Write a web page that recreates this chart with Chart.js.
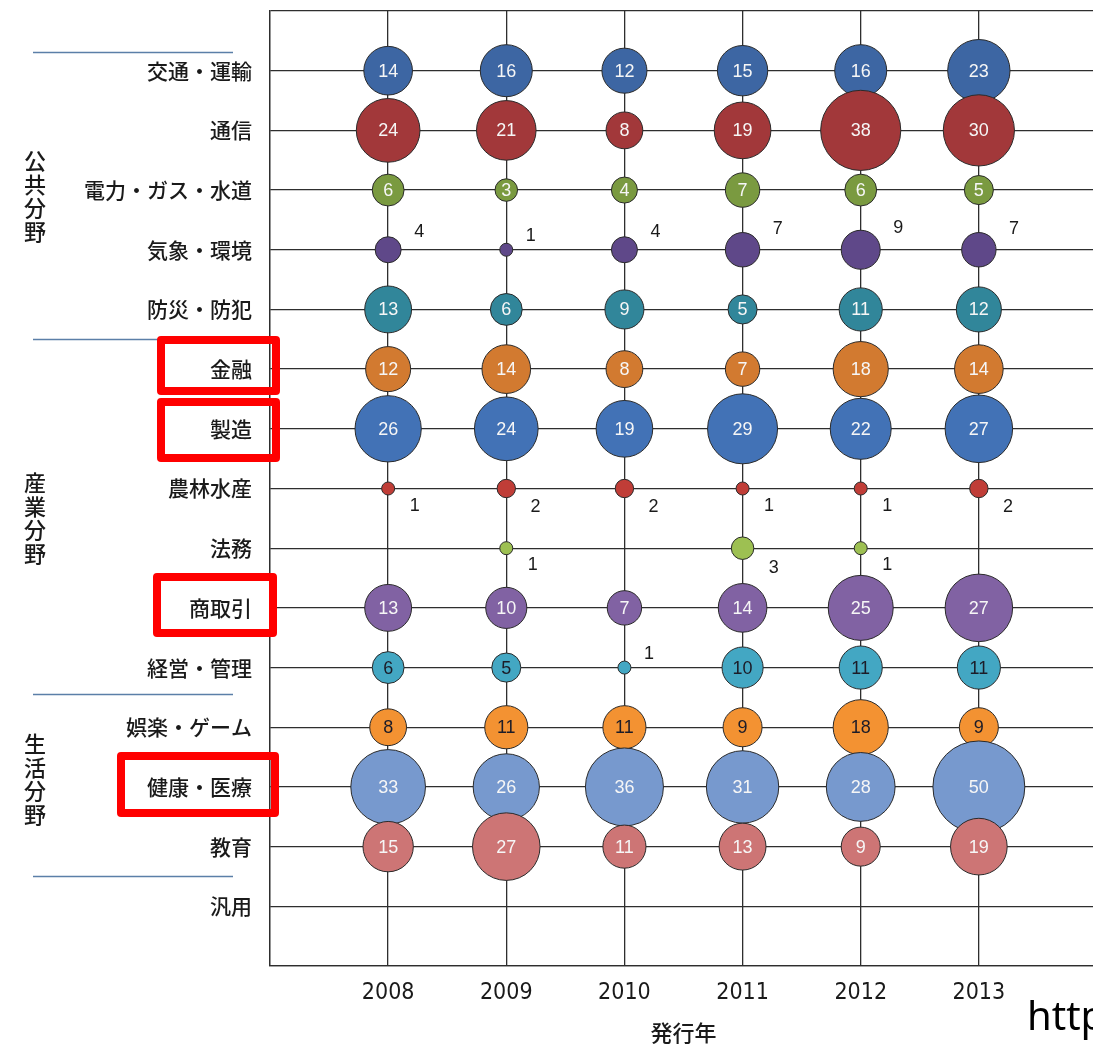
<!DOCTYPE html>
<html lang="ja">
<head>
<meta charset="utf-8">
<title>分野別・発行年別件数</title>
<script src="https://cdn.jsdelivr.net/npm/chart.js@4/dist/chart.umd.min.js"></script>
<style>
  html, body { margin: 0; padding: 0; background: #ffffff; overflow: hidden; }
  #wrap { position: absolute; left: 0; top: 0; width: 1097px; height: 1046px; }
</style>
</head>
<body>
<div id="wrap"><canvas id="chart"></canvas></div>
<script>
// Publication years (x axis)
const years = [2008, 2009, 2010, 2011, 2012, 2013];

// Fields (y axis, top to bottom)
const categories = [
  '交通・運輸', '通信', '電力・ガス・水道', '気象・環境', '防災・防犯',
  '金融', '製造', '農林水産', '法務', '商取引', '経営・管理',
  '娯楽・ゲーム', '健康・医療', '教育', '汎用'
];

// Field groups shown at the far left
const groupNames = ['公共分野', '産業分野', '生活分野'];

// Counts per field, 2008 → 2013
const transport     = [14, 16, 12, 15, 16, 23];
const telecom       = [24, 21, 8, 19, 38, 30];
const utilities     = [6, 3, 4, 7, 6, 5];
const weatherEnv    = [4, 1, 4, 7, 9, 7];
const disaster      = [13, 6, 9, 5, 11, 12];
const finance       = [12, 14, 8, 7, 18, 14];
const manufacturing = [26, 24, 19, 29, 22, 27];
const agriculture   = [1, 2, 2, 1, 1, 2];
const legal         = [0, 1, 0, 3, 1, 0];
const commerce      = [13, 10, 7, 14, 25, 27];
const management    = [6, 5, 1, 10, 11, 11];
const entertainment = [8, 11, 11, 9, 18, 9];
const health        = [33, 26, 36, 31, 28, 50];
const education     = [15, 27, 11, 13, 9, 19];
const general       = [0, 0, 0, 0, 0, 0];

const seriesValues = [
  transport, telecom, utilities, weatherEnv, disaster,
  finance, manufacturing, agriculture, legal, commerce, management,
  entertainment, health, education, general
];

const fillColors = [
  '#3d66a3', '#a2383a', '#7a9a40', '#5f4889', '#31869a',
  '#d27a30', '#4272b6', '#c03d37', '#9dc052', '#8162a3', '#43a7c3',
  '#f39232', '#7799ce', '#cd7575', '#888888'
];

// Label placement: values of these fields are written beside the bubble
const besideUpperRight = [3];      // 気象・環境
const besideLowerRight = [7, 8];   // 農林水産, 法務
const darkLabelRows = [10, 11];    // 経営・管理, 娯楽・ゲーム

const BUBBLE_SCALE = 6.5;          // radius = scale * sqrt(count)
const LINE = '#2e2e2e';
const TEXT = '#1a1a1a';
const JP_FONT = '"Noto Sans CJK JP", "Noto Sans", sans-serif';
const NUM_FONT = '"Liberation Sans", Arial, sans-serif';

const datasets = seriesValues.map((vals, ci) => ({
  label: categories[ci],
  data: vals.map((v, j) => ({ x: years[j], y: ci, v })).filter(p => p.v > 0),
  backgroundColor: fillColors[ci],
  borderColor: '#2a2a2a',
  borderWidth: 1,
  order: -ci,
  radius: ctx => BUBBLE_SCALE * Math.sqrt(ctx.raw ? ctx.raw.v : 0),
  hoverRadius: 0
}));

// Numbers on / beside each bubble
const valueLabels = {
  id: 'valueLabels',
  afterDatasetsDraw(chart) {
    const ctx = chart.ctx;
    ctx.save();
    ctx.font = '18px ' + NUM_FONT;
    ctx.textAlign = 'center';
    ctx.textBaseline = 'middle';
    chart.data.datasets.forEach((ds, ci) => {
      const meta = chart.getDatasetMeta(ci);
      meta.data.forEach((el, j) => {
        const v = ds.data[j].v;
        const r = el.options.radius;
        let place = 'in';
        if (besideUpperRight.includes(ci)) place = 'ur';
        else if (besideLowerRight.includes(ci)) place = 'lr';
        else if (v <= 1) place = 'ur';
        if (place === 'in') {
          ctx.fillStyle = darkLabelRows.includes(ci) ? '#1c1c28' : '#f6f6f6';
          ctx.fillText(String(v), el.x, el.y + 1);
        } else if (place === 'ur') {
          ctx.fillStyle = TEXT;
          ctx.fillText(String(v), el.x + r + 18, el.y - (r * 0.6 + 10));
        } else {
          ctx.fillStyle = TEXT;
          ctx.fillText(String(v), el.x + r + 20, el.y + r * 0.5 + 14);
        }
      });
    });
    ctx.restore();
  }
};

// Group captions, separators, highlight boxes and the cut-off URL text
const decorations = {
  id: 'decorations',
  afterDraw(chart) {
    const ctx = chart.ctx;
    const yS = chart.scales.y;
    ctx.save();

    // separators between field groups
    ctx.strokeStyle = '#5b7fa8';
    ctx.lineWidth = 1.5;
    [-0.32, 4.5, 10.45, 13.5].forEach(val => {
      const py = Math.round(yS.getPixelForValue(val)) + 0.5;
      ctx.beginPath();
      ctx.moveTo(33, py);
      ctx.lineTo(233, py);
      ctx.stroke();
    });

    // vertical group captions
    ctx.fillStyle = TEXT;
    ctx.font = '500 22px ' + JP_FONT;
    ctx.textAlign = 'center';
    ctx.textBaseline = 'middle';
    const groupCenters = [
      (yS.getPixelForValue(0) + yS.getPixelForValue(4)) / 2 + 6,
      (yS.getPixelForValue(5) + yS.getPixelForValue(10)) / 2,
      (yS.getPixelForValue(11) + yS.getPixelForValue(13)) / 2 - 8
    ];
    groupNames.forEach((name, gi) => {
      const chars = Array.from(name);
      const step = 23.5;
      const start = groupCenters[gi] - step * (chars.length - 1) / 2;
      chars.forEach((ch, k) => ctx.fillText(ch, 35, start + k * step));
    });

    // highlight boxes around selected fields
    ctx.strokeStyle = '#ff0000';
    ctx.lineWidth = 8;
    ctx.lineJoin = 'round';
    [
      [157, 336, 280, 395],
      [157, 398, 280, 462],
      [153, 573, 277, 637],
      [117, 752, 279, 817]
    ].forEach(([x0, y0, x1, y1]) => {
      ctx.strokeRect(x0 + 4, y0 + 4, x1 - x0 - 8, y1 - y0 - 8);
    });

    // source URL, running off the right edge
    ctx.fillStyle = '#000000';
    ctx.font = '40px "Noto Sans", "Open Sans", sans-serif';
    ctx.textAlign = 'left';
    ctx.textBaseline = 'alphabetic';
    ctx.fillText('http://', 1027, 1030);

    ctx.restore();
  }
};

// Fixed axis box sizes, no extra edge padding from tick labels
function fixBox(size, key) {
  return s => {
    s[key] = size;
    s.paddingTop = 0;
    s.paddingBottom = 0;
    s.paddingLeft = 0;
    s.paddingRight = 0;
  };
}

new Chart(document.getElementById('chart'), {
  type: 'bubble',
  data: { datasets },
  options: {
    responsive: true,
    maintainAspectRatio: false,
    animation: false,
    events: [],
    layout: { autoPadding: false, padding: { top: 11, right: 0, bottom: 0, left: 0 } },
    plugins: {
      legend: { display: false },
      tooltip: { enabled: false }
    },
    scales: {
      x: {
        type: 'linear',
        min: 2007,
        max: 2014,
        afterFit: fixBox(80, 'height'),
        grid: { color: LINE, lineWidth: 1.3, drawTicks: false },
        border: { color: LINE, width: 1.3 },
        ticks: {
          stepSize: 1,
          padding: 13,
          color: TEXT,
          font: { family: '"Liberation Sans Narrow", "DejaVu Sans Condensed", sans-serif', size: 23 },
          callback: v => (years.includes(v) ? String(v) : '')
        },
        title: {
          display: true,
          text: '発行年',
          color: TEXT,
          font: { family: JP_FONT, size: 22, weight: '500' },
          padding: { top: 0, bottom: 0 }
        }
      },
      y: {
        type: 'linear',
        min: -1,
        max: 15,
        reverse: true,
        afterFit: fixBox(270, 'width'),
        grid: { color: LINE, lineWidth: 1.3, drawTicks: false },
        border: { color: LINE, width: 1.3 },
        ticks: {
          stepSize: 1,
          autoSkip: false,
          padding: 18,
          color: TEXT,
          font: { family: JP_FONT, size: 21, weight: '500' },
          callback: v => (categories[v] !== undefined ? categories[v] : '')
        }
      }
    }
  },
  plugins: [valueLabels, decorations]
});
</script>
</body>
</html>
